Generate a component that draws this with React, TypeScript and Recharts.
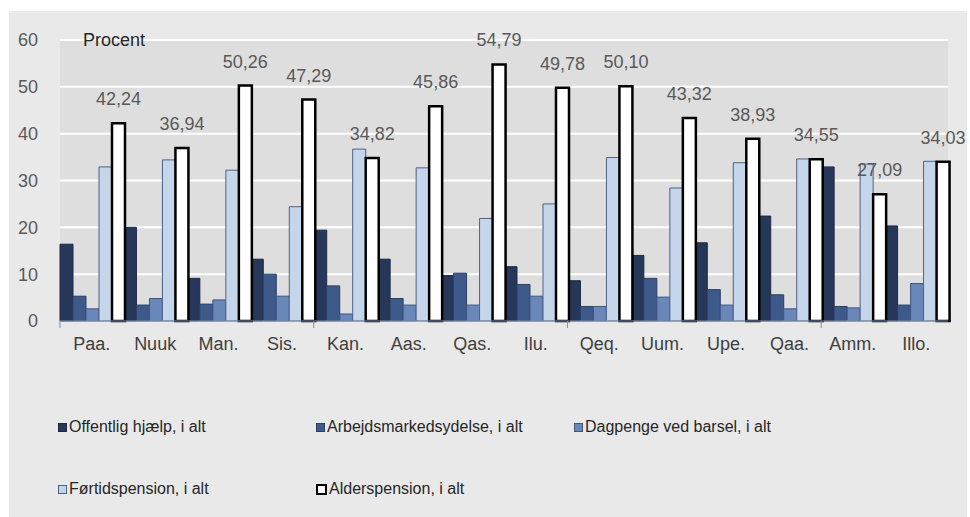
import React from 'react';
import { BarChart, Bar, XAxis, YAxis, CartesianGrid, LabelList, Legend, ReferenceLine } from 'recharts';

const FONT = '"Liberation Sans", Arial, sans-serif';

const categories = ['Paa.', 'Nuuk', 'Man.', 'Sis.', 'Kan.', 'Aas.', 'Qas.', 'Ilu.', 'Qeq.', 'Uum.', 'Upe.', 'Qaa.', 'Amm.', 'Illo.'];
const offentlig = [16.4, 20.0, 9.1, 13.2, 19.4, 13.2, 9.7, 11.6, 8.6, 14.0, 16.7, 22.4, 32.9, 20.3];
const arbejds = [5.3, 3.4, 3.6, 10.0, 7.5, 4.8, 10.2, 7.8, 3.1, 9.1, 6.7, 5.6, 3.1, 3.4];
const dagpenge = [2.6, 4.8, 4.5, 5.3, 1.5, 3.4, 3.4, 5.3, 3.1, 5.1, 3.4, 2.6, 2.8, 8.0];
const fortid = [32.9, 34.4, 32.2, 24.4, 36.7, 32.7, 21.9, 25.0, 34.9, 28.4, 33.8, 34.6, 33.5, 34.1];
const alders = [42.24, 36.94, 50.26, 47.29, 34.82, 45.86, 54.79, 49.78, 50.10, 43.32, 38.93, 34.55, 27.09, 34.03];
const yTicks = [0, 10, 20, 30, 40, 50, 60];

const series = [
  { key: 'offentlig', name: 'Offentlig hjælp, i alt', fill: '#27375a', stroke: '#1d2a44', sw: 1 },
  { key: 'arbejds', name: 'Arbejdsmarkedsydelse, i alt', fill: '#3e5a8b', stroke: '#2c4068', sw: 1 },
  { key: 'dagpenge', name: 'Dagpenge ved barsel, i alt', fill: '#6a87b9', stroke: '#3f5683', sw: 1 },
  { key: 'fortid', name: 'Førtidspension, i alt', fill: '#c6d6ea', stroke: '#4d6186', sw: 1 },
  { key: 'alders', name: 'Alderspension, i alt', fill: '#ffffff', stroke: '#000000', sw: 2.5 },
];

const data = categories.map((name, i) => ({
  name,
  offentlig: offentlig[i],
  arbejds: arbejds[i],
  dagpenge: dagpenge[i],
  fortid: fortid[i],
  alders: alders[i],
}));

const legendPos = [
  { left: 58, top: 427 },
  { left: 316, top: 427 },
  { left: 574, top: 427 },
  { left: 58, top: 489 },
  { left: 316, top: 489 },
];

const XTick = (props: any) => {
  const { x, y, payload, index, width } = props;
  const w = typeof width === 'number' && width > 0 ? width : 888;
  const band = w / categories.length;
  return (
    <g>
      <text x={x} y={y + 29} textAnchor="middle" fill="#404040" fontSize={18} fontFamily={FONT}>
        {payload.value}
      </text>
      {index % 4 === 0 && (
        <line x1={x - band / 2} x2={x - band / 2} y1={y} y2={y + 7} stroke="#7f8fab" strokeWidth={1} />
      )}
    </g>
  );
};

const renderLegend = () => (
  <div style={{ position: 'relative', width: 0, height: 0 }}>
    {series.map((s, i) => (
      <div
        key={s.key}
        style={{
          position: 'absolute',
          left: legendPos[i].left,
          top: legendPos[i].top - 10,
          height: 20,
          display: 'flex',
          alignItems: 'center',
          whiteSpace: 'nowrap',
          fontFamily: FONT,
          fontSize: 16,
          color: '#262626',
        }}
      >
        <span
          style={{
            display: 'inline-block',
            width: 7,
            height: 7,
            background: s.fill,
            border: `${s.key === 'alders' ? 2 : 1}px solid ${s.key === 'alders' ? '#000' : s.stroke}`,
            marginRight: 2,
          }}
        />
        <span>{s.name}</span>
      </div>
    ))}
  </div>
);

const fmt = (v: any) => Number(v).toFixed(2).replace('.', ',');

export default function App() {
  return (
    <div style={{ position: 'absolute', left: 0, top: 0, width: 970, height: 517, background: '#ffffff' }}>
      <div style={{ position: 'absolute', left: 9, top: 11, width: 958, height: 506, background: '#e9e9e9' }} />
      <div style={{ position: 'absolute', left: 0, top: 0 }}>
        <BarChart
          width={970}
          height={517}
          data={data}
          margin={{ top: 40, right: 22, bottom: 166, left: 0 }}
          barCategoryGap={0}
          barGap={0}
        >
          <CartesianGrid vertical={false} stroke="#ffffff" strokeWidth={2} fill="#dedede" />
          <YAxis
            width={60}
            domain={[0, 60]}
            ticks={yTicks}
            interval={0}
            axisLine={false}
            tickLine={false}
            tickSize={0}
            tickMargin={22}
            tick={{ fill: '#595959', fontSize: 18, fontFamily: FONT }}
          />
          <XAxis
            dataKey="name"
            height={30}
            interval={0}
            tickLine={false}
            tickSize={0}
            tickMargin={0}
            axisLine={{ stroke: '#8796b0', strokeWidth: 1 }}
            tick={<XTick />}
          />
          <ReferenceLine
            y={60}
            stroke="#ffffff"
            strokeWidth={2}
            label={{ value: 'Procent', position: 'insideLeft', offset: 23, fill: '#262626', fontSize: 18, fontFamily: FONT }}
          />
          <Legend content={renderLegend} wrapperStyle={{ top: 0, left: 0, width: 0, height: 0, bottom: 'auto' }} />
          {series.map((s) => (
            <Bar
              key={s.key}
              dataKey={s.key}
              name={s.name}
              fill={s.fill}
              stroke={s.stroke}
              strokeWidth={s.sw}
              isAnimationActive={false}
            >
              {s.key === 'alders' && (
                <LabelList
                  dataKey="alders"
                  position="top"
                  offset={18}
                  formatter={fmt}
                  fill="#595959"
                  fontSize={18}
                  fontFamily={FONT}
                />
              )}
            </Bar>
          ))}
        </BarChart>
      </div>
    </div>
  );
}
